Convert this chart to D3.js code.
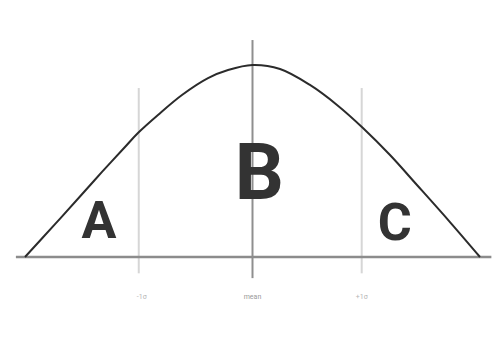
<!DOCTYPE html>
<html>
<head>
<meta charset="utf-8">
<script src="https://cdn.jsdelivr.net/npm/d3@7"></script>
<style>
  html, body { margin: 0; padding: 0; background: #fff; }
  svg { display: block; }
</style>
</head>
<body>
<svg id="chart"></svg>
<script>
// Curve (x in sigma units, y as share of the peak)
const curveX = [-2.0, -1.736, -1.499, -1.323, -1.121, -1.007, -0.831, -0.62, -0.391, -0.215, 0,
                0.242, 0.505, 0.743, 0.971, 1.209, 1.446, 1.736, 2.0];
const curveY = [0, 0.171, 0.327, 0.443, 0.573, 0.646, 0.74, 0.844, 0.932, 0.974, 1.0,
                0.979, 0.896, 0.792, 0.672, 0.531, 0.375, 0.182, 0];

// Vertical markers and their tick labels
const markerX = [-1.0, 0, 0.96];
const markerLabels = ["-1σ", "mean", "+1σ"];

// Region letters
const regionNames = ["A", "B", "C"];
const regionX = [-1.35, 0.06, 1.25];
const regionY = [0.1, 0.3, 0.09];

const width = 497;
const height = 351;

const svg = d3.select("#chart")
    .attr("width", width)
    .attr("height", height);

const x = d3.scaleLinear().domain([-2, 2]).range([25, 480]);
const y = d3.scaleLinear().domain([0, 1]).range([257, 65]);

// vertical lines, centre one is darker and taller
svg.selectAll(".marker")
    .data(markerX)
    .join("line")
    .attr("class", "marker")
    .attr("x1", d => x(d))
    .attr("x2", d => x(d))
    .attr("y1", d => d === 0 ? y(1.13) : y(0.88))
    .attr("y2", d => d === 0 ? y(-0.11) : y(-0.085))
    .attr("stroke", d => d === 0 ? "#8f8f8f" : "#d6d6d6")
    .attr("stroke-width", 2);

// baseline
svg.append("line")
    .attr("x1", x(-2.08))
    .attr("x2", x(2.1))
    .attr("y1", y(0))
    .attr("y2", y(0))
    .attr("stroke", "#8c8c8c")
    .attr("stroke-width", 2.5);

// tick labels
svg.selectAll(".tick-label")
    .data(markerX)
    .join("text")
    .attr("class", "tick-label")
    .attr("x", d => x(d) + (d < 0 ? 3 : 0))
    .attr("y", y(-0.22))
    .attr("text-anchor", "middle")
    .style("font-family", "Roboto, sans-serif")
    .style("font-size", "7px")
    .style("fill", (d, i) => i === 1 ? "#999" : "#b5b5b5")
    .text((d, i) => markerLabels[i]);

// the curve
const line = d3.line()
    .x((d, i) => x(curveX[i]))
    .y(d => y(d))
    .curve(d3.curveCatmullRom.alpha(0.5));

svg.append("path")
    .datum(curveY)
    .attr("d", line)
    .attr("fill", "none")
    .attr("stroke", "#2b2b2b")
    .attr("stroke-width", 2);

// region letters
svg.selectAll(".region")
    .data(regionNames)
    .join("text")
    .attr("class", "region")
    .attr("x", (d, i) => x(regionX[i]))
    .attr("y", (d, i) => y(regionY[i]))
    .attr("text-anchor", "middle")
    .style("font-family", "Roboto, sans-serif")
    .style("font-weight", "bold")
    .style("font-size", d => d === "B" ? "77px" : "52px")
    .style("fill", "#333")
    .text(d => d);
</script>
</body>
</html>
